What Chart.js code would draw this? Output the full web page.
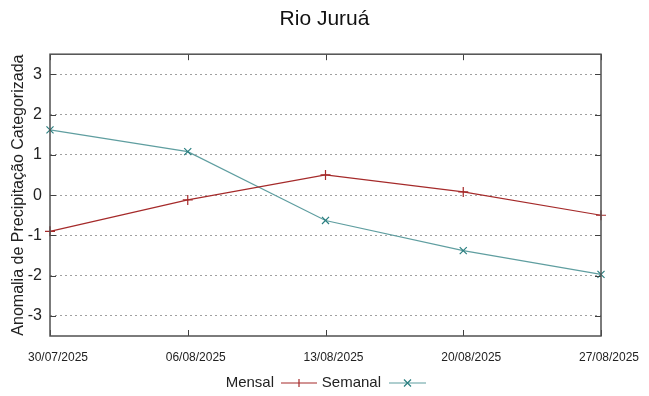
<!DOCTYPE html>
<html>
<head>
<meta charset="utf-8">
<script src="https://cdn.jsdelivr.net/npm/chart.js@4.4.1/dist/chart.umd.min.js"></script>
<style>
  html, body { margin: 0; padding: 0; background: #fff; }
  #wrap { width: 649px; height: 396px; }
</style>
</head>
<body>
<div id="wrap"><canvas id="grafico"></canvas></div>
<script>
// datas das semanas
const datas = ['30/07/2025', '06/08/2025', '13/08/2025', '20/08/2025', '27/08/2025'];
// valores
const mensal = [-0.9, -0.12, 0.5, 0.08, -0.5];
const semanal = [1.62, 1.08, -0.63, -1.38, -1.97];
const yTicks = [-3, -2, -1, 0, 1, 2, 3];

const corMensal = '#a52a2a';
const corSemanal = '#5f9ea0';
const corMarcaSemanal = '#2a7f80';

/**
 * Moldura estilo gnuplot, marcas internas e legenda em baixo
 */
const moldura = {
    id: 'moldura',
    afterDraw(chart) {
        const ctx = chart.ctx;
        const a = chart.chartArea;
        const x = chart.scales.x;
        const y = chart.scales.y;
        ctx.save();
        ctx.strokeStyle = '#404040';
        ctx.lineWidth = 1;
        // marcas
        x.ticks.forEach((t, i) => {
            const px = Math.round(x.getPixelForTick(i)) + 0.5;
            ctx.beginPath();
            ctx.moveTo(px, a.bottom); ctx.lineTo(px, a.bottom - 6);
            ctx.moveTo(px, a.top); ctx.lineTo(px, a.top + 6);
            ctx.stroke();
        });
        yTicks.forEach(v => {
            const py = Math.round(y.getPixelForValue(v)) + 0.5;
            ctx.beginPath();
            ctx.moveTo(a.left, py); ctx.lineTo(a.left + 6, py);
            ctx.moveTo(a.right, py); ctx.lineTo(a.right - 6, py);
            ctx.stroke();
        });
        ctx.strokeStyle = '#505050';
        ctx.lineWidth = 1.5;
        ctx.strokeRect(a.left, a.top, a.right - a.left, a.bottom - a.top);

        // legenda
        const ly = 383;
        ctx.font = '15px "Liberation Sans", Arial, sans-serif';
        ctx.fillStyle = '#222';
        ctx.textAlign = 'right';
        ctx.textBaseline = 'middle';
        ctx.fillText('Mensal', 274, ly);
        ctx.fillText('Semanal', 381, ly);
        ctx.lineWidth = 1.2;
        ctx.strokeStyle = corMensal;
        ctx.beginPath();
        ctx.moveTo(281, ly); ctx.lineTo(317, ly);
        ctx.moveTo(299, ly - 4); ctx.lineTo(299, ly + 4);
        ctx.stroke();
        ctx.strokeStyle = corSemanal;
        ctx.beginPath();
        ctx.moveTo(389, ly); ctx.lineTo(426, ly);
        ctx.stroke();
        ctx.strokeStyle = corMarcaSemanal;
        ctx.beginPath();
        ctx.moveTo(404, ly - 3.5); ctx.lineTo(411, ly + 3.5);
        ctx.moveTo(404, ly + 3.5); ctx.lineTo(411, ly - 3.5);
        ctx.stroke();
        ctx.restore();
    }
};

function criarGrafico() {
    const ctx = document.getElementById('grafico').getContext('2d');
    Chart.defaults.font.family = '"Liberation Sans", Arial, sans-serif';
    Chart.defaults.color = '#222';

    new Chart(ctx, {
        type: 'line',
        data: {
            labels: datas,
            datasets: [
                {
                    label: 'Mensal',
                    data: mensal,
                    borderColor: corMensal,
                    backgroundColor: corMensal,
                    borderWidth: 1.2,
                    pointStyle: 'cross',
                    pointRadius: 5,
                    pointBorderWidth: 1.2,
                    tension: 0,
                    clip: false
                },
                {
                    label: 'Semanal',
                    data: semanal,
                    borderColor: corSemanal,
                    backgroundColor: corSemanal,
                    pointBorderColor: corMarcaSemanal,
                    borderWidth: 1.2,
                    pointStyle: 'crossRot',
                    pointRadius: 5,
                    pointBorderWidth: 1.2,
                    tension: 0,
                    clip: false
                }
            ]
        },
        options: {
            responsive: true,
            maintainAspectRatio: false,
            animation: false,
            layout: { padding: 0 },
            plugins: {
                legend: { display: false },
                tooltip: { enabled: false },
                title: {
                    display: true,
                    text: 'Rio Juruá',
                    color: '#111',
                    font: { size: 21, weight: 'normal' },
                    padding: { top: 7, bottom: 22 }
                }
            },
            scales: {
                x: {
                    offset: false,
                    grid: { display: false, drawTicks: false },
                    border: { display: false },
                    ticks: { font: { size: 12 }, padding: 14, labelOffset: 8, maxRotation: 0, autoSkip: false },
                    afterFit: s => { s.height = 60; }
                },
                y: {
                    min: -3.5,
                    max: 3.5,
                    afterBuildTicks: s => { s.ticks = yTicks.map(v => ({ value: v })); },
                    grid: { color: '#a0a0a0', lineWidth: 1, drawTicks: false },
                    border: { display: false, dash: [2, 3] },
                    ticks: { font: { size: 16 }, padding: 8 },
                    title: {
                        display: true,
                        text: 'Anomalia de Precipitação Categorizada',
                        font: { size: 16 },
                        padding: { top: 9, bottom: 0 }
                    },
                    afterFit: s => { s.width = 50; }
                },
                direita: {
                    position: 'right',
                    min: -3.5,
                    max: 3.5,
                    grid: { display: false, drawTicks: false },
                    border: { display: false },
                    ticks: { display: false },
                    afterFit: s => { s.width = 48; }
                }
            }
        },
        plugins: [moldura]
    });
}

window.onload = criarGrafico;
</script>
</body>
</html>
